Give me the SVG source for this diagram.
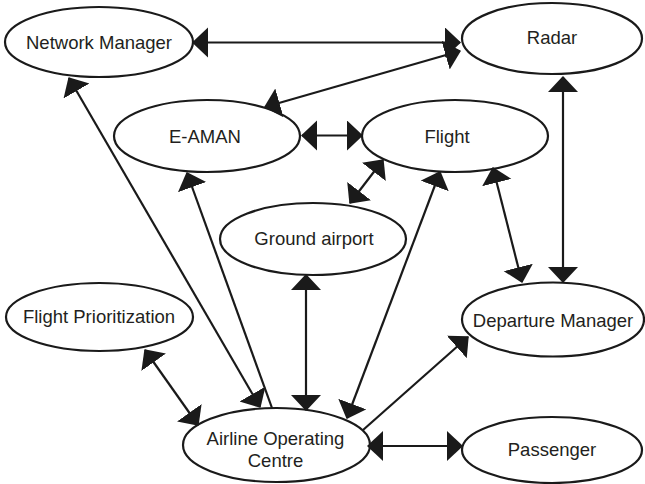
<svg xmlns="http://www.w3.org/2000/svg" width="645" height="484" viewBox="0 0 645 484">
<style>
.n ellipse{fill:#fff;stroke:#1a1a1a;stroke-width:2.2}
.n text{font-family:"Liberation Sans",Arial,sans-serif;font-size:18.5px;fill:#231f20;text-anchor:middle}
.c line{stroke:#1a1a1a;stroke-width:2.2;fill:none}
.a2{marker-start:url(#ah);marker-end:url(#ah)}
.a1{marker-end:url(#ah)}
</style>
<defs>
<marker id="ah" markerUnits="userSpaceOnUse" markerWidth="20" markerHeight="32" refX="15" refY="15" orient="auto-start-reverse" viewBox="0 0 20 32">
<path d="M0,0 L16,15 L0,30 z" fill="#1a1a1a"/>
</marker>
</defs>
<rect width="645" height="484" fill="#fff"/>
<g id="nm" class="n"><ellipse cx="99" cy="42" rx="94" ry="35"/><text x="99" y="49">Network Manager</text></g>
<g id="radar" class="n"><ellipse cx="552" cy="38.5" rx="90" ry="35.5"/><text x="552" y="44">Radar</text></g>
<g id="eaman" class="n"><ellipse cx="207" cy="136" rx="93" ry="36"/><text x="205" y="143">E-AMAN</text></g>
<g id="flight" class="n"><ellipse cx="455" cy="136" rx="93" ry="36"/><text x="447" y="143">Flight</text></g>
<g id="ground" class="n"><ellipse cx="313" cy="239" rx="93" ry="36"/><text x="314" y="245">Ground airport</text></g>
<g id="fp" class="n"><ellipse cx="99.5" cy="317" rx="93.5" ry="34"/><text x="99" y="323">Flight Prioritization</text></g>
<g id="dm" class="n"><ellipse cx="553" cy="319.5" rx="91" ry="37"/><text x="553" y="327">Departure Manager</text></g>
<g id="aoc" class="n"><ellipse cx="276.5" cy="445" rx="93.5" ry="37"/><text x="275.5" y="445">Airline Operating</text><text x="275.5" y="467">Centre</text></g>
<g id="passenger" class="n"><ellipse cx="552" cy="450" rx="90" ry="33"/><text x="552" y="456">Passenger</text></g>
<g id="connectors" class="c">
<line class="a2" x1="193" y1="42.5" x2="460" y2="42.5"/>
<line class="a2" x1="265" y1="107" x2="460" y2="51"/>
<line class="a2" x1="302" y1="135.5" x2="362" y2="135.5"/>
<line class="a2" x1="383" y1="160" x2="350" y2="203"/>
<line class="a2" x1="563" y1="77" x2="563" y2="282"/>
<line class="a2" x1="493" y1="168" x2="522" y2="282"/>
<line class="a2" x1="347" y1="418" x2="440" y2="172"/>
<line class="a2" x1="306" y1="275" x2="306" y2="410"/>
<line class="a1" x1="363" y1="430" x2="468" y2="337"/>
<line class="a2" x1="368" y1="446" x2="462" y2="446"/>
<line class="a2" x1="145" y1="350" x2="198" y2="425"/>
<line class="a2" x1="69" y1="78" x2="260" y2="407"/>
<line class="a1" x1="272" y1="408" x2="187" y2="173"/>
</g>
</svg>
